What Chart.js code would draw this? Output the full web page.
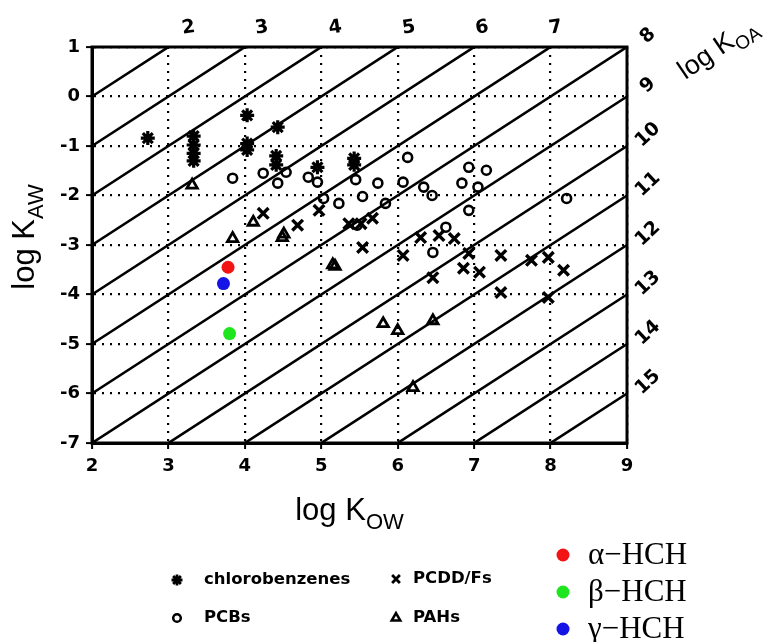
<!DOCTYPE html>
<html>
<head>
<meta charset="utf-8">
<script src="https://cdn.jsdelivr.net/npm/chart.js@4/dist/chart.umd.min.js"></script>
<style>
html,body{margin:0;padding:0;background:#fff;}
#wrap{width:780px;height:642px;}
</style>
</head>
<body>
<div id="wrap"><canvas id="c" width="780" height="642"></canvas></div>
<script>
// ---- data (log Kow, log Kaw) ----
const chlorobenzenesX = [2.73, 3.33, 3.33, 3.33, 3.33, 4.03, 4.03, 4.03, 4.43, 4.41, 4.41, 4.95, 5.43, 5.43];
const chlorobenzenesY = [-0.84, -0.80, -0.98, -1.15, -1.30, -0.38, -0.95, -1.08, -0.62, -1.20, -1.38, -1.43, -1.25, -1.38];

const pcbX = [3.84, 4.24, 4.43, 4.54, 4.83, 4.95, 5.03, 5.23, 5.45, 5.54, 5.74, 5.84, 6.07, 6.13, 6.34, 6.45, 6.63, 6.46, 6.84, 6.93, 7.05, 7.16, 6.93, 8.21, 5.47];
const pcbY = [-1.65, -1.55, -1.75, -1.53, -1.63, -1.73, -2.06, -2.16, -1.68, -2.02, -1.75, -2.16, -1.73, -1.23, -1.83, -2.00, -2.64, -3.15, -1.75, -1.43, -1.83, -1.49, -2.30, -2.06, -2.60];

const pcddfX = [4.24, 4.69, 4.97, 5.36, 5.52, 5.67, 5.54, 6.07, 6.30, 6.54, 6.74, 6.46, 6.93, 6.86, 7.07, 7.35, 7.35, 7.75, 7.97, 8.17, 7.97];
const pcddfY = [-2.36, -2.60, -2.30, -2.57, -2.57, -2.46, -3.05, -3.21, -2.85, -2.81, -2.87, -3.66, -3.17, -3.47, -3.55, -3.21, -3.96, -3.31, -3.25, -3.51, -4.06];

const pahX = [3.31, 3.84, 4.11, 4.49, 4.51, 5.15, 5.18, 5.81, 6.00, 6.46, 6.20];
const pahY = [-1.79, -2.87, -2.54, -2.85, -2.78, -3.40, -3.43, -4.59, -4.73, -4.53, -5.88];

const hchNames = ['\u03b1\u2212HCH', '\u03b2\u2212HCH', '\u03b3\u2212HCH'];
const hchX = [3.78, 3.80, 3.72];
const hchY = [-3.45, -4.79, -3.78];
const hchColors = ['#f21414', '#1ee61e', '#1414e6'];

// lines of constant log Koa
const koaLines = [2, 3, 4, 5, 6, 7, 8, 9, 10, 11, 12, 13, 14, 15];
const koaTopLabels = [2, 3, 4, 5, 6, 7];
const koaRightLabels = [8, 9, 10, 11, 12, 13, 14, 15];

const xTickRange = [2, 9];
const yTickRange = [-7, 1];

function pts(xs, ys) { return xs.map((x, i) => ({ x: x, y: ys[i] })); }

const datasets = [];
datasets.push({ label: 'chlorobenzenes', data: pts(chlorobenzenesX, chlorobenzenesY), pointStyle: 'star', pointRadius: 7, borderColor: '#000', backgroundColor: '#000', pointBorderWidth: 3.2, order: 1 });
datasets.push({ label: 'PCDD/Fs', data: pts(pcddfX, pcddfY), pointStyle: 'crossRot', pointRadius: 7.5, borderColor: '#000', backgroundColor: '#000', pointBorderWidth: 3.4, order: 1 });
datasets.push({ label: 'PCBs', data: pts(pcbX, pcbY), pointStyle: 'circle', pointRadius: 4.5, borderColor: '#000', backgroundColor: 'rgba(0,0,0,0)', pointBorderWidth: 2.6, order: 1 });
datasets.push({ label: 'PAHs', data: pts(pahX, pahY), pointStyle: 'triangle', pointRadius: 6, borderColor: '#000', backgroundColor: 'rgba(0,0,0,0)', pointBorderWidth: 2.8, order: 1 });
hchNames.forEach((n, i) => {
  datasets.push({ label: n, data: [{ x: hchX[i], y: hchY[i] }], pointStyle: 'circle', pointRadius: 6.5, borderColor: hchColors[i], backgroundColor: hchColors[i], pointBorderWidth: 0, order: 0 });
});
koaLines.forEach(k => {
  datasets.push({
    type: 'line', label: 'Koa ' + k,
    data: [{ x: xTickRange[0], y: xTickRange[0] - k }, { x: xTickRange[1], y: xTickRange[1] - k }],
    borderColor: '#000', borderWidth: 2.6, pointRadius: 0, fill: false, order: 10, clip: 0
  });
});

const FONT = '"Liberation Sans", Arial, sans-serif';
const BOLD = '"DejaVu Sans", "Liberation Sans", sans-serif';
const SERIF = '"Liberation Serif", "Times New Roman", serif';

function drawSub(ctx, main, sub, x, y, size, weight) {
  const w = weight ? weight + ' ' : '';
  ctx.font = w + size + 'px ' + FONT;
  const w1 = ctx.measureText(main).width;
  ctx.font = w + Math.round(size * 0.72) + 'px ' + FONT;
  const w2 = ctx.measureText(sub).width;
  const total = w1 + w2;
  let sx = x - total / 2;
  ctx.textAlign = 'left';
  ctx.textBaseline = 'alphabetic';
  ctx.font = w + size + 'px ' + FONT;
  ctx.fillText(main, sx, y);
  ctx.font = w + Math.round(size * 0.72) + 'px ' + FONT;
  ctx.fillText(sub, sx + w1, y + size * 0.28);
}

function drawSym(ctx, style, x, y, r, bw) {
  ctx.save();
  ctx.strokeStyle = '#000';
  ctx.fillStyle = 'rgba(0,0,0,0)';
  ctx.lineWidth = bw;
  if (Chart.helpers && Chart.helpers.drawPoint) {
    Chart.helpers.drawPoint(ctx, { pointStyle: style, radius: r, borderWidth: bw, rotation: 0 }, x, y);
  }
  ctx.restore();
}

const overlay = {
  id: 'overlay',
  afterDraw(chart) {
    const ctx = chart.ctx;
    const a = chart.chartArea;
    const xs = chart.scales.x, ys = chart.scales.y;
    ctx.save();
    // frame
    ctx.strokeStyle = '#000';
    ctx.lineWidth = 3;
    ctx.strokeRect(a.left, a.top, a.right - a.left, a.bottom - a.top);

    ctx.fillStyle = '#000';
    // top Koa labels
    ctx.font = 'bold 19px ' + BOLD;
    ctx.textAlign = 'center';
    ctx.textBaseline = 'middle';
    koaTopLabels.forEach((k, i) => {
      const px = xs.getPixelForValue(k + 1) + 20 - 3 * i;
      ctx.save();
      ctx.translate(px, 28);
      ctx.rotate(-0.15);
      ctx.fillText(String(k), 0, 0);
      ctx.restore();
    });
    // right Koa labels
    koaRightLabels.forEach(k => {
      const py = ys.getPixelForValue(xTickRange[1] - k) - 11;
      ctx.save();
      ctx.translate(a.right + 21, py);
      ctx.rotate(-0.75);
      ctx.fillText(String(k), 0, 0);
      ctx.restore();
    });
    // log Koa title
    ctx.save();
    ctx.translate(722, 55);
    ctx.rotate(-0.6);
    drawSub(ctx, 'log K', 'OA', 0, 0, 27);
    ctx.restore();

    // axis titles
    drawSub(ctx, 'log K', 'OW', (a.left + a.right) / 2 - 10, 520, 31);
    ctx.save();
    ctx.translate(34, (a.top + a.bottom) / 2 - 8);
    ctx.rotate(-Math.PI / 2);
    drawSub(ctx, 'log K', 'AW', 0, 0, 31);
    ctx.restore();

    // symbol legend
    ctx.font = 'bold 16.5px ' + BOLD;
    ctx.textAlign = 'left';
    ctx.textBaseline = 'middle';
    drawSym(ctx, 'star', 177, 580, 5.5, 2.8);
    ctx.fillText('chlorobenzenes', 204, 580);
    drawSym(ctx, 'crossRot', 396, 579, 5.5, 2.8);
    ctx.fillText('PCDD/Fs', 413, 579);
    drawSym(ctx, 'circle', 177, 618, 3.8, 2.5);
    ctx.fillText('PCBs', 204, 618);
    drawSym(ctx, 'triangle', 396, 618, 5, 2.5);
    ctx.fillText('PAHs', 413, 618);

    // HCH legend
    ctx.font = '31px ' + SERIF;
    hchNames.forEach((n, i) => {
      const y = 555 + i * 37;
      ctx.beginPath();
      ctx.fillStyle = hchColors[i];
      ctx.arc(563, y, 6.5, 0, Math.PI * 2);
      ctx.fill();
      ctx.fillStyle = '#000';
      ctx.fillText(n, 588, y + 1);
    });
    ctx.restore();
  }
};

new Chart(document.getElementById('c'), {
  type: 'scatter',
  data: { datasets: datasets },
  options: {
    responsive: false,
    animation: false,
    devicePixelRatio: 1,
    layout: { padding: { top: 47, right: 153, left: 0, bottom: 0 } },
    plugins: { legend: { display: false }, tooltip: { enabled: false } },
    scales: {
      x: {
        type: 'linear', min: xTickRange[0], max: xTickRange[1],
        afterFit(s) { s.height = 199; },
        ticks: { stepSize: 1, color: '#000', font: { family: BOLD, size: 18, weight: 'bold' }, padding: 7 },
        grid: { color: '#000', lineWidth: 2.2, tickLength: 6, tickBorderDash: [], tickColor: '#000', tickWidth: 2 },
        border: { display: true, color: '#000', width: 3, dash: [2, 6] }
      },
      y: {
        type: 'linear', min: yTickRange[0], max: yTickRange[1],
        afterFit(s) { s.width = 92; },
        ticks: { stepSize: 1, color: '#000', font: { family: BOLD, size: 18, weight: 'bold' }, padding: 6 },
        grid: { color: '#000', lineWidth: 2.2, tickLength: 6, tickBorderDash: [], tickColor: '#000', tickWidth: 2 },
        border: { display: true, color: '#000', width: 3, dash: [2, 6] }
      }
    }
  },
  plugins: [overlay]
});
</script>
</body>
</html>
